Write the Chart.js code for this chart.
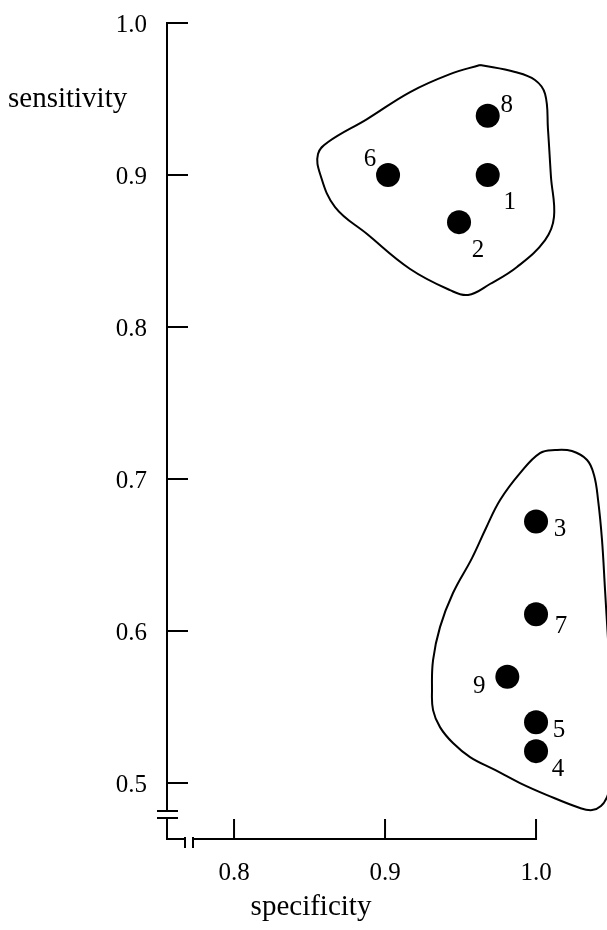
<!DOCTYPE html>
<html><head><meta charset="utf-8">
<script src="https://cdn.jsdelivr.net/npm/chart.js@4.4.1/dist/chart.umd.min.js"></script>
<style>html,body{margin:0;padding:0;background:#fff;overflow:hidden}canvas{display:block}</style>
</head><body>
<canvas id="c" width="607" height="930"></canvas>
<script>
// ---- data ----
const pointIds    = ['1','2','3','4','5','6','7','8','9'];
const specificity = [0.968, 0.949, 1.000, 1.000, 1.000, 0.902, 1.000, 0.968, 0.981];
const sensitivity = [0.900, 0.869, 0.672, 0.521, 0.540, 0.900, 0.611, 0.939, 0.570];

const xTicks = [0.8, 0.9, 1.0];
const yTicks = [0.5, 0.6, 0.7, 0.8, 0.9, 1.0];
const xTickLabels = ['0.8', '0.9', '1.0'];
const yTickLabels = ['0.5', '0.6', '0.7', '0.8', '0.9', '1.0'];

// outline of the upper group (specificity, sensitivity)
const upperBlobX = [0.9629,0.9861,0.9993,1.0060,1.0079,1.0099,1.0119,1.0060,0.9874,0.9695,0.9550,0.9430,0.9166,0.8881,0.8669,0.8570,0.8556,0.8623,0.8881,0.9166,0.9430,0.9629];
const upperBlobY = [0.9724,0.9678,0.9625,0.9533,0.9303,0.8987,0.8724,0.8572,0.8395,0.8283,0.8211,0.8243,0.8382,0.8612,0.8789,0.9007,0.9138,0.9217,0.9368,0.9546,0.9664,0.9724];
// outline of the lower group (runs past the right edge of the plot)
const lowerBlobX = [1.0503,1.0470,1.0430,1.0371,1.0291,1.0073,0.9894,0.9728,0.9563,0.9450,0.9364,0.9318,0.9311,0.9318,0.9364,0.9450,0.9576,0.9669,0.9762,0.9894,1.0026,1.0126,1.0238,1.0338,1.0384,1.0411,1.0437,1.0457,1.0477,1.0503,1.0517,1.0503];
const lowerBlobY = [0.5020,0.4908,0.4849,0.4822,0.4836,0.4921,0.5000,0.5086,0.5171,0.5263,0.5368,0.5480,0.5612,0.5809,0.6026,0.6250,0.6480,0.6678,0.6862,0.7039,0.7171,0.7191,0.7184,0.7125,0.7026,0.6862,0.6599,0.6270,0.5941,0.5546,0.5217,0.5020];

const xMin = 0.7556, xMax = 1.047;
const yMin = 0.4632, yMax = 1.0;

// ---- build datasets ----
const pts = specificity.map((x, i) => ({x, y: sensitivity[i]}));
const upper = upperBlobX.map((x, i) => ({x, y: upperBlobY[i]}));
const lower = lowerBlobX.map((x, i) => ({x, y: lowerBlobY[i]}));

// label placement relative to each point (pixels)
const labelOffsets = {'1':[22,27],'2':[19,28],'3':[24,8],'4':[22,18],'5':[23,8],'6':[-18,-16],'7':[25,12],'8':[19,-10],'9':[-28,10]};

const serif = "'Liberation Serif', 'DejaVu Serif', serif";

const axesPlugin = {
  id: 'axesPlugin',
  afterDraw(chart) {
    const ctx = chart.ctx;
    const xs = chart.scales.x, ys = chart.scales.y;
    const ca = chart.chartArea;
    const x0 = ca.left, y0 = ca.bottom;
    ctx.save();
    ctx.strokeStyle = '#000';
    ctx.fillStyle = '#000';
    ctx.lineWidth = 2;
    ctx.lineCap = 'butt';
    // y axis with break
    const yTop = ys.getPixelForValue(yMax);
    ctx.beginPath();
    ctx.moveTo(x0, yTop - 1); ctx.lineTo(x0, y0 - 28);
    ctx.moveTo(x0, y0 - 21); ctx.lineTo(x0, y0 + 1);
    ctx.stroke();
    // y break marks
    ctx.beginPath();
    ctx.moveTo(x0 - 10, y0 - 28); ctx.lineTo(x0 + 11, y0 - 28);
    ctx.moveTo(x0 - 10, y0 - 21); ctx.lineTo(x0 + 11, y0 - 21);
    ctx.stroke();
    // x axis with break
    const xEnd = xs.getPixelForValue(1.0);
    ctx.beginPath();
    ctx.moveTo(x0 - 1, y0); ctx.lineTo(x0 + 18, y0);
    ctx.moveTo(x0 + 26, y0); ctx.lineTo(xEnd + 1, y0);
    ctx.stroke();
    ctx.beginPath();
    ctx.moveTo(x0 + 18, y0 - 2); ctx.lineTo(x0 + 18, y0 + 9);
    ctx.moveTo(x0 + 26, y0 - 2); ctx.lineTo(x0 + 26, y0 + 9);
    ctx.stroke();
    // ticks (pointing inward)
    ctx.beginPath();
    yTicks.forEach(v => { const p = ys.getPixelForValue(v); ctx.moveTo(x0, p); ctx.lineTo(x0 + 21, p); });
    xTicks.forEach(v => { const p = xs.getPixelForValue(v); ctx.moveTo(p, y0); ctx.lineTo(p, y0 - 20); });
    ctx.stroke();
    // tick labels
    ctx.font = '25px ' + serif;
    ctx.textAlign = 'right'; ctx.textBaseline = 'middle';
    yTicks.forEach((v, i) => ctx.fillText(yTickLabels[i], x0 - 20, ys.getPixelForValue(v) + 2));
    ctx.textAlign = 'center';
    xTicks.forEach((v, i) => ctx.fillText(xTickLabels[i], xs.getPixelForValue(v), y0 + 34));
    // axis titles
    ctx.font = '29px ' + serif;
    ctx.textAlign = 'left'; ctx.textBaseline = 'alphabetic';
    ctx.fillText('sensitivity', 8, 107);
    ctx.textAlign = 'center';
    ctx.fillText('specificity', 311, 915);
    // point labels
    ctx.font = '25px ' + serif;
    ctx.textAlign = 'center'; ctx.textBaseline = 'middle';
    const meta = chart.getDatasetMeta(0);
    meta.data.forEach((el, i) => {
      const o = labelOffsets[pointIds[i]];
      ctx.fillText(pointIds[i], el.x + o[0], el.y + o[1]);
    });
    ctx.restore();
  }
};

new Chart(document.getElementById('c'), {
  type: 'scatter',
  data: {
    datasets: [
      { label: 'studies', data: pts, backgroundColor: '#000', borderColor: '#000', pointRadius: 12, pointBorderWidth: 0, showLine: false },
      { label: 'upper group', data: upper, showLine: true, tension: 0.4, borderColor: '#000', borderWidth: 2, pointRadius: 0, fill: false },
      { label: 'lower group', data: lower, showLine: true, tension: 0.4, borderColor: '#000', borderWidth: 2, pointRadius: 0, fill: false }
    ]
  },
  options: {
    responsive: false,
    animation: false,
    devicePixelRatio: 1,
    layout: { autoPadding: false, padding: { left: 167, right: 0, top: 23, bottom: 91 } },
    plugins: { legend: { display: false }, tooltip: { enabled: false } },
    scales: {
      x: { type: 'linear', min: xMin, max: xMax, display: false },
      y: { type: 'linear', min: yMin, max: yMax, display: false }
    }
  },
  plugins: [axesPlugin]
});
</script>
</body></html>
